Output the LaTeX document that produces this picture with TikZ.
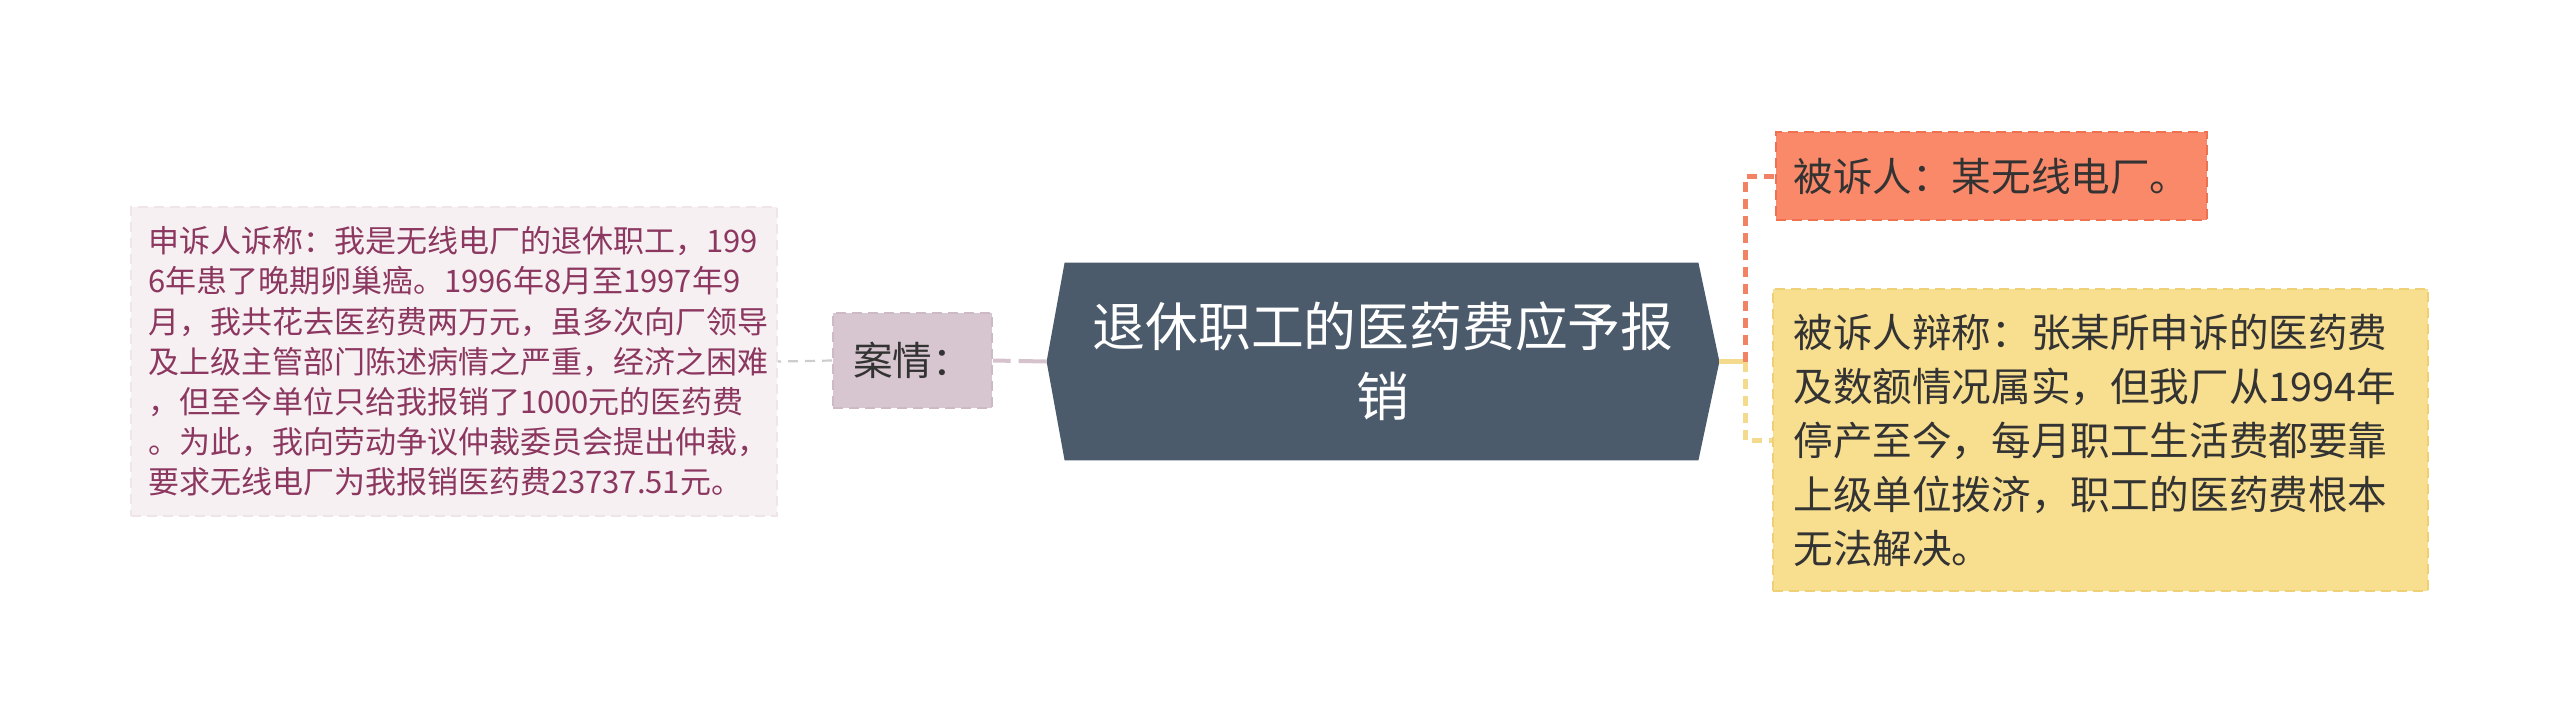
\documentclass[tikz,border=0pt]{standalone}
\usepackage{fontspec}
\newfontfamily\cjk{Noto Sans CJK SC}
\definecolor{leftfill}{RGB}{246,240,243}
\definecolor{leftdraw}{RGB}{238,228,233}
\definecolor{lefttext}{RGB}{140,55,95}
\definecolor{casefill}{RGB}{215,197,207}
\definecolor{casedraw}{RGB}{205,186,197}
\definecolor{hexfill}{RGB}{75,91,107}
\definecolor{coralfill}{RGB}{250,137,105}
\definecolor{coraldraw}{RGB}{240,112,82}
\definecolor{yelfill}{RGB}{248,223,143}
\definecolor{yeldraw}{RGB}{240,208,118}
\definecolor{darktext}{RGB}{51,51,51}
\definecolor{graylink}{RGB}{205,205,205}
\definecolor{mauvelink}{RGB}{214,194,205}
\definecolor{coralline}{RGB}{242,130,100}
\definecolor{yelline}{RGB}{244,218,140}
\tikzset{
  box/.style={rectangle, inner sep=0pt, dashed, dash pattern=on 5pt off 3pt, line width=1pt, font=\cjk},
  link/.style={dash pattern=on 5pt off 3.5pt},
}
\begin{document}
\begin{tikzpicture}[x=0.5pt,y=-0.5pt]
\useasboundingbox (0,0) rectangle (2560,725);
% left detail box
\node[box, fill=leftfill, draw=leftdraw, text=lefttext, minimum width=323pt, minimum height=154.5pt, align=left, text width=306pt,
  font=\cjk\fontsize{15.5pt}{20.1pt}\selectfont] (claim) at (454,361.5)
  {申诉人诉称：我是无线电厂的退休职工，199\\6年患了晚期卵巢癌。1996年8月至1997年9\\月，我共花去医药费两万元，虽多次向厂领导\\及上级主管部门陈述病情之严重，经济之困难\\，但至今单位只给我报销了1000元的医药费\\。为此，我向劳动争议仲裁委员会提出仲裁，\\要求无线电厂为我报销医药费23737.51元。};
% case node
\node[box, fill=casefill, draw=casedraw, text=darktext, minimum width=79.5pt, minimum height=47.5pt,
  font=\cjk\fontsize{19.8pt}{24pt}\selectfont] (case) at (912.5,360.5) {案情：};
% central hexagon (text node + outline)
\node[inner sep=0pt, minimum width=336pt, minimum height=98.5pt] (center) at (1383,361.5) {};
\fill[hexfill] (center.west) -- ([xshift=9pt]center.north west) -- ([xshift=-10.5pt]center.north east)
  -- (center.east) -- ([xshift=-10.5pt]center.south east) -- ([xshift=9pt]center.south west) -- cycle;
\node[text=white, align=center, text width=300pt, inner sep=0pt,
  font=\cjk\fontsize{26.4pt}{35pt}\selectfont] (title) at (center.center) {退休职工的医药费应予报\\销};
% right nodes
\node[box, fill=coralfill, draw=coraldraw, text=darktext, minimum width=215.5pt, minimum height=44pt,
  font=\cjk\fontsize{19.8pt}{24pt}\selectfont] (resp) at (1991.5,176) {被诉人：某无线电厂。};
\node[box, fill=yelfill, draw=yeldraw, text=darktext, minimum width=327.5pt, minimum height=151pt, align=left, text width=307pt,
  font=\cjk\fontsize{19.8pt}{27pt}\selectfont] (defense) at (2100.5,440)
  {被诉人辩称：张某所申诉的医药费\\及数额情况属实，但我厂从1994年\\停产至今，每月职工生活费都要靠\\上级单位拨济，职工的医药费根本\\无法解决。};
% connectors
\coordinate (jn) at (1745,361.5);
\draw[graylink, line width=1.1pt, link] (case.west) -- (claim.east);
\draw[mauvelink, line width=2pt, dash pattern=on 14pt off 4pt] (center.west) -- (case.east);
\draw[yelline, line width=2.5pt] (center.east) -- (jn);
\draw[coralline, line width=2.5pt, link] (jn) |- (resp.west);
\draw[yelline, line width=2.5pt, link] (jn) |- (defense.west);
\end{tikzpicture}
\end{document}
